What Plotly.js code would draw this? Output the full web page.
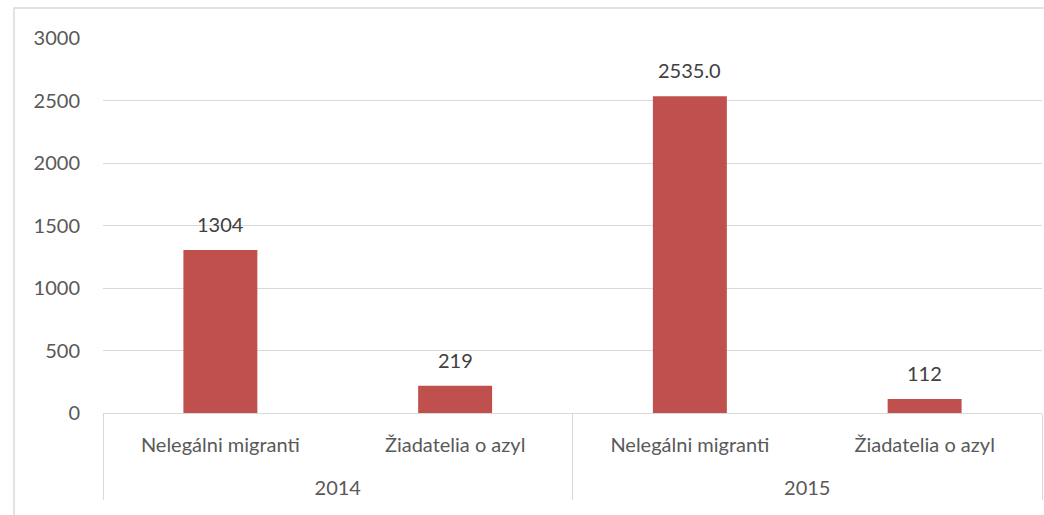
<!DOCTYPE html>
<html>
<head>
<meta charset="utf-8">
<script src="https://cdn.plot.ly/plotly-3.0.1.min.js"></script>
<style>
html,body{margin:0;padding:0;background:#fff;}
#chart{width:1044px;height:515px;}
</style>
</head>
<body>
<div id="chart"></div>
<script>
const years = ['2014', '2014', '2015', '2015'];
const categories = ['Nelegálni migranti', 'Žiadatelia o azyl', 'Nelegálni migranti', 'Žiadatelia o azyl'];
const values = [1304, 219, 2535, 112];
const valueLabels = ['1304', '219', '2535.0', '112'];
const yTicks = [0, 500, 1000, 1500, 2000, 2500, 3000];

const FONT = 'Lato, "Open Sans", sans-serif';

const trace = {
  type: 'bar',
  x: [years, categories.map(c => c + '<br><span style="font-size:42px">&nbsp;</span>')],
  y: values,
  marker: {color: '#C0504D', line: {width: 0}},
  width: 0.315,
  hoverinfo: 'none'
};

const annotations = values.map((v, i) => ({
  x: i, y: v, xref: 'x', yref: 'y',
  text: valueLabels[i],
  showarrow: false,
  yanchor: 'bottom',
  yshift: 12,
  font: {family: FONT, size: 20, color: '#404040'}
}));

const layout = {
  width: 1044, height: 515,
  margin: {l: 103, r: 2, t: 38, b: 102},
  paper_bgcolor: '#ffffff',
  plot_bgcolor: '#ffffff',
  showlegend: false,
  font: {family: FONT, size: 20, color: '#595959'},
  xaxis: {
    type: 'multicategory',
    showline: true, linecolor: '#D9D9D9', linewidth: 1,
    showgrid: false, zeroline: false,
    ticks: '',
    ticklabelstandoff: 14,
    showdividers: true, dividercolor: '#D9D9D9', dividerwidth: 1,
    tickfont: {family: FONT, size: 20, color: '#595959'}
  },
  yaxis: {
    range: [0, 3000],
    tickvals: yTicks,
    ticktext: yTicks.map(String),
    showgrid: true, gridcolor: '#D9D9D9', gridwidth: 1,
    zeroline: false, showline: false, ticks: '',
    ticklabelstandoff: 22,
    tickfont: {family: FONT, size: 20, color: '#595959'}
  },
  annotations: annotations,
  shapes: [{
    type: 'rect', xref: 'paper', yref: 'paper',
    x0: -0.0948, x1: 1.1, y0: -0.4, y1: 1.08,
    line: {color: '#D9D9D9', width: 1.5}, fillcolor: 'rgba(0,0,0,0)', layer: 'below'
  }]
};

Plotly.newPlot('chart', [trace], layout, {displayModeBar: false, staticPlot: true});
</script>
</body>
</html>
